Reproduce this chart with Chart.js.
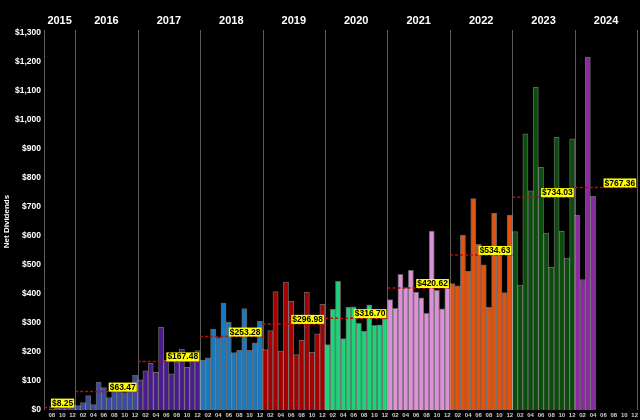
<!DOCTYPE html>
<html>
<head>
<meta charset="utf-8">
<script src="https://cdn.jsdelivr.net/npm/chart.js"></script>
<style>
  html, body { margin: 0; padding: 0; background: #000; }
  #wrap { width: 640px; height: 420px; }
</style>
</head>
<body>
<div id="wrap"><canvas id="myChart" width="640" height="420"></canvas></div>
<script>
// Monthly net dividends, one array per year (2015 starts in July, 2024 stops after April)
const years = ['2015', '2016', '2017', '2018', '2019', '2020', '2021', '2022', '2023', '2024'];
const firstMonth = 7;
const net2015 = [0, 4, 6, 11, 13, 15.5];
const net2016 = [15, 26, 50, 19, 96, 77, 43, 88, 90, 60, 66, 120];
const net2017 = [104, 135, 161, 130, 285, 171, 125, 165, 210, 147, 171, 205];
const net2018 = [171, 180, 279, 250, 369, 303, 198, 206, 350, 206, 232, 306];
const net2019 = [208, 274, 408, 203, 441, 375, 191, 240, 407, 199, 263, 364];
const net2020 = [226, 348, 444, 246, 355, 356, 299, 272, 363, 292, 294, 315];
const net2021 = [381, 351, 468, 422, 482, 407, 387, 333, 617, 413, 349, 422];
const net2022 = [436, 428, 603, 478, 729, 571, 501, 354, 679, 560, 405, 672];
const net2023 = [615, 431, 952, 756, 1113, 837, 610, 492, 940, 616, 524, 935];
const net2024 = [671, 450, 1217, 737];
const yearAverages = [8.25, 63.47, 167.48, 253.28, 296.98, 316.70, 420.62, 534.63, 734.03, 767.36];
const tickMonths = ['02', '04', '06', '08', '10', '12'];

const yearColors = ['#3b4a9c', '#3b4aa2', '#4a1b8c', '#1a79bf', '#a80000', '#1ed37a', '#dd8fd8', '#e3530e', '#0b4e0b', '#8a2a9e'];

const yearly = [net2015, net2016, net2017, net2018, net2019, net2020, net2021, net2022, net2023, net2024];

// flatten into one category axis
let labels = [];
let values = [];
let colors = [];
let spans = [];
years.forEach((yr, k) => {
  const m0 = k === 0 ? firstMonth : 1;
  const start = labels.length;
  for (let m = m0; m <= 12; m++) {
    labels.push(yr + '-' + String(m).padStart(2, '0'));
    const v = yearly[k][m - m0];
    values.push(v === undefined ? null : v);
    colors.push(yearColors[k]);
  }
  spans.push({ start: start, end: labels.length - 1 });
});

const yearMarks = {
  id: 'yearMarks',
  beforeDatasetsDraw(chart) {
    const { ctx, chartArea, scales: { x } } = chart;
    const half = (x.getPixelForValue(1) - x.getPixelForValue(0)) / 2;
    ctx.save();
    ctx.strokeStyle = '#5c5c5c';
    ctx.lineWidth = 1;
    const edges = [x.getPixelForValue(0) - half].concat(spans.map(s => x.getPixelForValue(s.end) + half));
    edges.forEach(px => {
      const xx = Math.round(px) + 0.5;
      ctx.beginPath();
      ctx.moveTo(xx, 30);
      ctx.lineTo(xx, chartArea.bottom);
      ctx.stroke();
    });
    ctx.restore();
  },
  afterDatasetsDraw(chart) {
    const { ctx, scales: { x, y } } = chart;
    const half = (x.getPixelForValue(1) - x.getPixelForValue(0)) / 2;
    ctx.save();
    spans.forEach((s, k) => {
      const xs = x.getPixelForValue(s.start) - half;
      const xe = x.getPixelForValue(s.end) + half;
      // year name on top
      ctx.fillStyle = '#fff';
      ctx.font = 'bold 11px "Liberation Sans", Arial, sans-serif';
      ctx.textAlign = 'center';
      ctx.textBaseline = 'middle';
      ctx.fillText(years[k], (xs + xe) / 2, 21);
      // average line
      const ay = y.getPixelForValue(yearAverages[k]);
      ctx.strokeStyle = '#b80f0f';
      ctx.lineWidth = 1.5;
      ctx.setLineDash([3, 2]);
      ctx.beginPath();
      ctx.moveTo(xs, ay);
      ctx.lineTo(xe, ay);
      ctx.stroke();
      ctx.setLineDash([]);
      // average label
      const txt = '$' + yearAverages[k].toFixed(2);
      ctx.font = 'bold 8.5px "Liberation Sans", Arial, sans-serif';
      const w = ctx.measureText(txt).width + 2;
      const bx = xe - 1 - w;
      ctx.fillStyle = '#ffff00';
      ctx.fillRect(bx, ay - 9, w, 9);
      ctx.fillStyle = '#000';
      ctx.textAlign = 'center';
      ctx.textBaseline = 'middle';
      ctx.fillText(txt, bx + w / 2, ay - 4.3);
    });
    ctx.restore();
  }
};

var ctx = document.getElementById('myChart').getContext('2d');
var myChart = new Chart(ctx, {
  type: 'bar',
  data: {
    labels: labels,
    datasets: [{
      data: values,
      backgroundColor: colors,
      borderColor: 'rgba(255,255,255,0.38)',
      borderWidth: 1,
      barPercentage: 1,
      categoryPercentage: 1
    }]
  },
  options: {
    responsive: false,
    animation: false,
    devicePixelRatio: 1,
    layout: { padding: { top: 33, right: 2, left: 0, bottom: 0 } },
    plugins: { legend: { display: false }, tooltip: { enabled: false } },
    scales: {
      x: {
        grid: { display: false, drawTicks: false },
        border: { display: false },
        afterFit: scale => { scale.height = 10; },
        ticks: {
          autoSkip: false,
          maxRotation: 0,
          minRotation: 0,
          padding: 2,
          color: '#d0d0d0',
          font: { family: '"Liberation Sans", Arial, sans-serif', size: 6, weight: 'bold' },
          callback: (val, idx) => {
            const mm = labels[idx].slice(5);
            return tickMonths.includes(mm) ? mm : null;
          }
        }
      },
      y: {
        min: 0,
        max: 1300,
        grid: { display: false, drawTicks: false },
        border: { display: false },
        afterFit: scale => { scale.width = 44; },
        title: {
          display: true,
          text: 'Net Dividends',
          color: '#fff',
          padding: { top: 2, bottom: 0 },
          font: { family: '"Liberation Sans", Arial, sans-serif', size: 8, weight: 'bold' }
        },
        ticks: {
          stepSize: 100,
          padding: 3,
          color: '#fff',
          font: { family: '"Liberation Sans", Arial, sans-serif', size: 8.5, weight: 'bold' },
          callback: v => '$' + v.toLocaleString('en-US')
        }
      }
    }
  },
  plugins: [yearMarks]
});
</script>
</body>
</html>
